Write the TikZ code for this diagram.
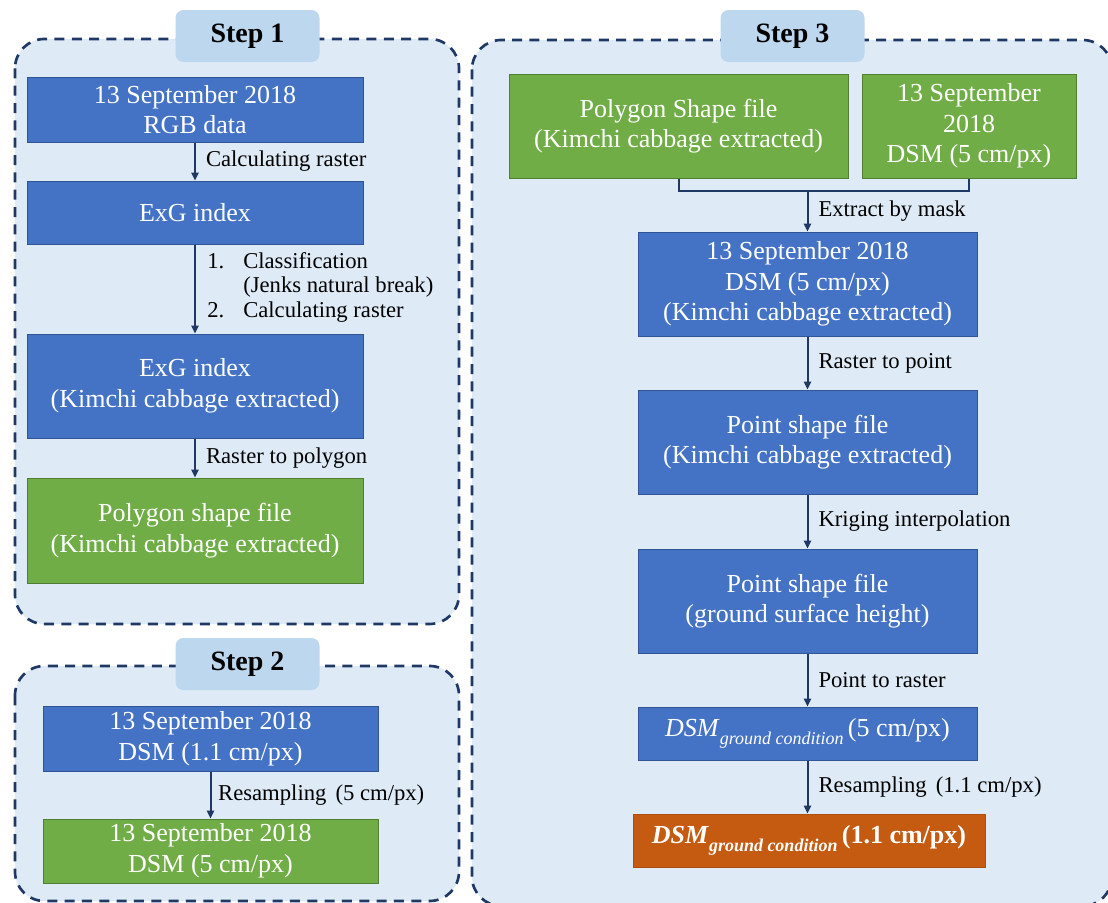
\documentclass[tikz,border=0pt]{standalone}
\usepackage{fontspec}
\setmainfont{Liberation Serif}
\usetikzlibrary{arrows.meta}

\definecolor{panelfill}{HTML}{DEEBF7}
\definecolor{tagfill}{HTML}{BDD7EE}
\definecolor{navy}{HTML}{1F3864}
\definecolor{blockblue}{HTML}{4472C4}
\definecolor{blueedge}{HTML}{2F5597}
\definecolor{blockgreen}{HTML}{70AD47}
\definecolor{greenedge}{HTML}{507E32}
\definecolor{blockorange}{HTML}{C55A11}
\definecolor{orangeedge}{HTML}{AE4E0E}

\newcommand{\dsmgc}{\textit{DSM}\raisebox{-6pt}{\fontsize{13.5}{14}\selectfont\itshape ground condition}}

\begin{document}
\begin{tikzpicture}[x=0.75pt, y=-0.75pt,
   panel/.style={draw=navy, fill=panelfill, line width=2pt, dash pattern=on 7.5pt off 5.5pt, rounded corners=22pt},
   steptag/.style={fill=tagfill, rounded corners=6pt, minimum width=108pt, minimum height=39pt, inner sep=0pt, font=\fontsize{21}{25}\selectfont\bfseries},
   block/.style={draw=blueedge, fill=blockblue, text=white, align=center, inner sep=0pt, line width=0.75pt, font=\fontsize{19.5}{23}\selectfont},
   greenblock/.style={block, draw=greenedge, fill=blockgreen},
   orangeblock/.style={block, draw=orangeedge, fill=blockorange, font=\fontsize{19.5}{23}\selectfont\bfseries},
   link/.style={draw=navy, line width=1.5pt},
   flow/.style={link, -{Triangle[length=6pt,width=5.5pt]}},
   note/.style={anchor=west, align=left, inner sep=0pt, font=\fontsize{17}{18.4}\selectfont}]
   \useasboundingbox (0,0) rectangle (1108,903);
   \begin{scope}
      \clip (0,0) rectangle (1108,903);
      \draw[panel] (15,39) rectangle (459,624);
      \draw[panel] (15,666) rectangle (459,901);
      \draw[panel] (472,40) rectangle (1112,906);
   \end{scope}
   \node[steptag] (tag1) at (247.5,36) {Step 1};
   \node[steptag] (tag2) at (247.5,664) {Step 2};
   \node[steptag] (tag3) at (792.5,36) {Step 3};

   \node[block, minimum width=252pt, minimum height=48.75pt] (rgb) at (195,109.5) {13 September 2018\\RGB data};
   \node[block, minimum width=252pt, minimum height=47.25pt] (exg) at (195,212.5) {ExG index};
   \node[block, minimum width=252pt, minimum height=78pt] (exgk) at (195,386) {ExG index\\(Kimchi cabbage extracted)};
   \node[greenblock, minimum width=252pt, minimum height=78.75pt] (poly1) at (195,530.5) {Polygon shape file\\(Kimchi cabbage extracted)};
   \draw[flow] (rgb) -- (exg) node[note, midway, xshift=7.5pt] {Calculating raster};
   \draw[flow] (exg) -- (exgk);
   \node[note] (classnote) at (207,287) {\makebox[27pt][l]{1.}Classification\\\hspace*{27pt}(Jenks natural break)\\\makebox[27pt][l]{2.}Calculating raster};
   \draw[flow] (exgk) -- (poly1) node[note, midway, xshift=7.5pt] {Raster to polygon};

   \node[block, minimum width=251.25pt, minimum height=48.75pt] (dsm11) at (210.5,738.5) {13 September 2018\\DSM (1.1 cm/px)};
   \node[greenblock, minimum width=251.25pt, minimum height=48pt] (dsm5) at (210.5,851) {13 September 2018\\DSM (5 cm/px)};
   \draw[flow] (dsm11) -- (dsm5) node[note, midway, xshift=5pt] {Resampling\hspace{0.15em} (5 cm/px)};

   \node[greenblock, minimum width=254.25pt, minimum height=78pt] (poly3) at (678.5,126) {Polygon Shape file\\(Kimchi cabbage extracted)};
   \node[greenblock, minimum width=160.5pt, minimum height=78pt] (dsm3) at (969,126) {13 September\\2018\\DSM (5 cm/px)};
   \node[block, minimum width=254.25pt, minimum height=78pt] (dsmx) at (807.5,284) {13 September 2018\\DSM (5 cm/px)\\(Kimchi cabbage extracted)};
   \node[block, minimum width=254.25pt, minimum height=78pt] (pts1) at (807.5,442) {Point shape file\\(Kimchi cabbage extracted)};
   \node[block, minimum width=254.25pt, minimum height=78pt] (pts2) at (807.5,601) {Point shape file\\(ground surface height)};
   \node[block, minimum width=254.25pt, minimum height=39.75pt] (gc5) at (807.5,733.5) {\dsmgc\,(5 cm/px)};
   \node[orangeblock, minimum width=264pt, minimum height=39.75pt] (gc11) at (809,840.5) {\dsmgc\,(1.1 cm/px)};
   \coordinate (merge) at (807.5,191);
   \draw[link] (poly3.south) |- (merge) -| (dsm3.south);
   \draw[flow] (merge) -- (dsmx) node[note, midway, xshift=7.5pt] {Extract by mask};
   \draw[flow] (dsmx) -- (pts1) node[note, midway, xshift=7.5pt] {Raster to point};
   \draw[flow] (pts1) -- (pts2) node[note, midway, xshift=7.5pt] {Kriging interpolation};
   \draw[flow] (pts2) -- (gc5) node[note, midway, xshift=7.5pt] {Point to raster};
   \draw[flow] (gc5.south) -- (gc5.south |- gc11.north) node[note, midway, xshift=7.5pt] {Resampling\hspace{0.15em} (1.1 cm/px)};
\end{tikzpicture}
\end{document}
